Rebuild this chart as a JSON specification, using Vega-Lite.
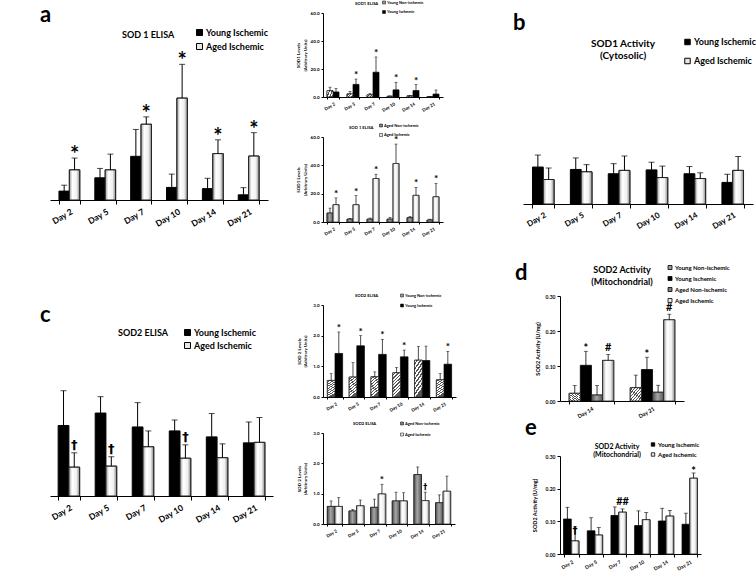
{
"$schema": "https://vega.github.io/schema/vega-lite/v6.json",
"padding": 0,
"background": "white",
"datasets": {
"sod1": [
{"day":"Day 2","series":"Young Non-ischemic","value":4.5,"err":7.0,"s_main":"","s_small":""},
{"day":"Day 2","series":"Young Ischemic","value":3.6,"err":6.0,"s_main":"","s_small":""},
{"day":"Day 2","series":"Aged Non-ischemic","value":6.3,"err":9.8,"s_main":"","s_small":""},
{"day":"Day 2","series":"Aged Ischemic","value":12.2,"err":17.0,"s_main":"*","s_small":"*"},
{"day":"Day 5","series":"Young Non-ischemic","value":2.2,"err":4.0,"s_main":"","s_small":""},
{"day":"Day 5","series":"Young Ischemic","value":9.0,"err":12.8,"s_main":"","s_small":"*"},
{"day":"Day 5","series":"Aged Non-ischemic","value":2.0,"err":2.6,"s_main":"","s_small":""},
{"day":"Day 5","series":"Aged Ischemic","value":12.2,"err":18.6,"s_main":"","s_small":"*"},
{"day":"Day 7","series":"Young Non-ischemic","value":1.5,"err":2.5,"s_main":"","s_small":""},
{"day":"Day 7","series":"Young Ischemic","value":17.7,"err":28.6,"s_main":"","s_small":"*"},
{"day":"Day 7","series":"Aged Non-ischemic","value":2.0,"err":2.8,"s_main":"","s_small":""},
{"day":"Day 7","series":"Aged Ischemic","value":30.7,"err":33.7,"s_main":"*","s_small":"*"},
{"day":"Day 10","series":"Young Non-ischemic","value":0.5,"err":0.8,"s_main":"","s_small":""},
{"day":"Day 10","series":"Young Ischemic","value":5.1,"err":10.5,"s_main":"","s_small":"*"},
{"day":"Day 10","series":"Aged Non-ischemic","value":2.0,"err":3.2,"s_main":"","s_small":""},
{"day":"Day 10","series":"Aged Ischemic","value":41.3,"err":55.0,"s_main":"*","s_small":"*"},
{"day":"Day 14","series":"Young Non-ischemic","value":0.8,"err":1.2,"s_main":"","s_small":""},
{"day":"Day 14","series":"Young Ischemic","value":4.6,"err":8.8,"s_main":"","s_small":"*"},
{"day":"Day 14","series":"Aged Non-ischemic","value":3.0,"err":3.8,"s_main":"","s_small":""},
{"day":"Day 14","series":"Aged Ischemic","value":18.8,"err":24.4,"s_main":"*","s_small":"*"},
{"day":"Day 21","series":"Young Non-ischemic","value":0.3,"err":0.5,"s_main":"","s_small":""},
{"day":"Day 21","series":"Young Ischemic","value":2.1,"err":5.0,"s_main":"","s_small":""},
{"day":"Day 21","series":"Aged Non-ischemic","value":1.4,"err":2.0,"s_main":"","s_small":""},
{"day":"Day 21","series":"Aged Ischemic","value":17.8,"err":27.3,"s_main":"*","s_small":"*"}
],
"sod2": [
{"day":"Day 2","series":"Young Non-ischemic","value":0.54,"err":0.76,"s_main":"","s_small":""},
{"day":"Day 2","series":"Young Ischemic","value":1.42,"err":2.12,"s_main":"","s_small":"*"},
{"day":"Day 2","series":"Aged Non-ischemic","value":0.58,"err":0.76,"s_main":"","s_small":""},
{"day":"Day 2","series":"Aged Ischemic","value":0.58,"err":0.87,"s_main":"†","s_small":""},
{"day":"Day 5","series":"Young Non-ischemic","value":0.65,"err":1.12,"s_main":"","s_small":""},
{"day":"Day 5","series":"Young Ischemic","value":1.67,"err":2.0,"s_main":"","s_small":"*"},
{"day":"Day 5","series":"Aged Non-ischemic","value":0.43,"err":0.48,"s_main":"","s_small":""},
{"day":"Day 5","series":"Aged Ischemic","value":0.6,"err":0.79,"s_main":"†","s_small":""},
{"day":"Day 7","series":"Young Non-ischemic","value":0.66,"err":0.82,"s_main":"","s_small":""},
{"day":"Day 7","series":"Young Ischemic","value":1.39,"err":1.88,"s_main":"","s_small":"*"},
{"day":"Day 7","series":"Aged Non-ischemic","value":0.55,"err":0.82,"s_main":"","s_small":""},
{"day":"Day 7","series":"Aged Ischemic","value":0.99,"err":1.31,"s_main":"","s_small":"*"},
{"day":"Day 10","series":"Young Non-ischemic","value":0.79,"err":0.96,"s_main":"","s_small":""},
{"day":"Day 10","series":"Young Ischemic","value":1.31,"err":1.53,"s_main":"","s_small":"*"},
{"day":"Day 10","series":"Aged Non-ischemic","value":0.76,"err":1.05,"s_main":"","s_small":""},
{"day":"Day 10","series":"Aged Ischemic","value":0.76,"err":1.03,"s_main":"†","s_small":""},
{"day":"Day 14","series":"Young Non-ischemic","value":1.2,"err":1.65,"s_main":"","s_small":""},
{"day":"Day 14","series":"Young Ischemic","value":1.19,"err":1.66,"s_main":"","s_small":""},
{"day":"Day 14","series":"Aged Non-ischemic","value":1.63,"err":1.88,"s_main":"","s_small":""},
{"day":"Day 14","series":"Aged Ischemic","value":0.77,"err":1.05,"s_main":"","s_small":"†"},
{"day":"Day 21","series":"Young Non-ischemic","value":0.56,"err":0.76,"s_main":"","s_small":""},
{"day":"Day 21","series":"Young Ischemic","value":1.07,"err":1.49,"s_main":"","s_small":"*"},
{"day":"Day 21","series":"Aged Non-ischemic","value":0.7,"err":0.96,"s_main":"","s_small":""},
{"day":"Day 21","series":"Aged Ischemic","value":1.08,"err":1.58,"s_main":"","s_small":""}
],
"sod1act": [
{"day":"Day 2","series":"Young Ischemic","value":0.077,"err":0.102},
{"day":"Day 2","series":"Aged Ischemic","value":0.051,"err":0.075},
{"day":"Day 5","series":"Young Ischemic","value":0.072,"err":0.096},
{"day":"Day 5","series":"Aged Ischemic","value":0.067,"err":0.082},
{"day":"Day 7","series":"Young Ischemic","value":0.063,"err":0.084},
{"day":"Day 7","series":"Aged Ischemic","value":0.070,"err":0.100},
{"day":"Day 10","series":"Young Ischemic","value":0.071,"err":0.087},
{"day":"Day 10","series":"Aged Ischemic","value":0.055,"err":0.079},
{"day":"Day 14","series":"Young Ischemic","value":0.063,"err":0.078},
{"day":"Day 14","series":"Aged Ischemic","value":0.053,"err":0.065},
{"day":"Day 21","series":"Young Ischemic","value":0.045,"err":0.062},
{"day":"Day 21","series":"Aged Ischemic","value":0.070,"err":0.099}
],
"dact": [
{"day":"Day 14","series":"Young Non-ischemic","value":0.022,"err":0.044,"sig":""},
{"day":"Day 14","series":"Young Ischemic","value":0.102,"err":0.142,"sig":"*"},
{"day":"Day 14","series":"Aged Non-ischemic","value":0.017,"err":0.044,"sig":""},
{"day":"Day 14","series":"Aged Ischemic","value":0.116,"err":0.133,"sig":"#"},
{"day":"Day 21","series":"Young Non-ischemic","value":0.038,"err":0.074,"sig":""},
{"day":"Day 21","series":"Young Ischemic","value":0.090,"err":0.125,"sig":"*"},
{"day":"Day 21","series":"Aged Non-ischemic","value":0.025,"err":0.045,"sig":""},
{"day":"Day 21","series":"Aged Ischemic","value":0.232,"err":0.248,"sig":"#"}
],
"eact": [
{"day":"Day 2","series":"Young Ischemic","value":0.107,"err":0.143,"sig":""},
{"day":"Day 2","series":"Aged Ischemic","value":0.040,"err":0.083,"sig":"†"},
{"day":"Day 5","series":"Young Ischemic","value":0.071,"err":0.111,"sig":""},
{"day":"Day 5","series":"Aged Ischemic","value":0.058,"err":0.081,"sig":""},
{"day":"Day 7","series":"Young Ischemic","value":0.118,"err":0.144,"sig":""},
{"day":"Day 7","series":"Aged Ischemic","value":0.128,"err":0.138,"sig":"##"},
{"day":"Day 10","series":"Young Ischemic","value":0.087,"err":0.132,"sig":""},
{"day":"Day 10","series":"Aged Ischemic","value":0.105,"err":0.127,"sig":""},
{"day":"Day 14","series":"Young Ischemic","value":0.101,"err":0.140,"sig":""},
{"day":"Day 14","series":"Aged Ischemic","value":0.116,"err":0.133,"sig":""},
{"day":"Day 21","series":"Young Ischemic","value":0.091,"err":0.125,"sig":""},
{"day":"Day 21","series":"Aged Ischemic","value":0.232,"err":0.248,"sig":"*"}
]
},
"resolve": {"scale": {"fill": "independent", "xOffset": "independent"}, "legend": {"fill": "independent"}},
"bounds": "flush",
"spacing": 0,
"hconcat": [
{"width": 50, "height": 10, "data": {"values": [{}]}, "mark": {"type": "point", "opacity": 0, "size": 1}},
{
"bounds": "flush", "spacing": 0,
"resolve": {"scale": {"fill": "independent", "xOffset": "independent"}, "legend": {"fill": "independent"}},
"vconcat": [
{"title": {"text": "a", "anchor": "start", "frame": "group", "fontSize": 22, "dx": -10, "dy": 44, "offset": 0, "baseline": "alphabetic"}, "width": 1, "height": 30, "data": {"values": [{}]}, "mark": {"type": "point", "opacity": 0, "size": 1}},
{"title": {"text": "SOD 1 ELISA", "anchor": "start", "frame": "group", "fontSize": 9, "dx": 72, "dy": 14, "offset": 0, "baseline": "middle"}, "width": 1, "height": 22, "data": {"values": [{}]}, "mark": {"type": "point", "opacity": 0, "size": 1}},
{
"width": 218, "height": 148,
"data": {"name": "sod1"},
"transform": [{"filter": {"field": "series", "oneOf": ["Young Ischemic", "Aged Ischemic"]}}],
"encoding": {
"x": {"field": "day", "type": "nominal", "sort": ["Day 2","Day 5","Day 7","Day 10","Day 14","Day 21"], "scale": {"paddingInner": 0.42, "paddingOuter": 0.25}, "axis": {"title": null, "labelAngle": -30, "labelFontSize": 8.5, "tickBand": "extent", "tickSize": 4, "labelPadding": 3, "labelOverlap": false}},
"xOffset": {"field": "series", "type": "nominal", "scale": {"domain": ["Young Ischemic", "Aged Ischemic"], "paddingInner": 0, "paddingOuter": 0}},
"y": {"field": "value", "type": "quantitative", "scale": {"domain": [0, 60]}, "axis": {"values": [0,10,20,30,40,50,60], "tickCount": 6, "labelOverlap": false, "labelSeparation": 0, "format": ".1f", "title": ["SOD 1 Levels", "(Arbitrary Units)"], "titleFontSize": 10.5, "labelFontSize": 8.5, "tickSize": 4, "titlePadding": 2}}
},
"layer": [
{"mark": {"type": "bar", "stroke": "#000", "strokeWidth": 1},
 "encoding": {
  "fill": {"field": "series", "type": "nominal", "scale": {"domain": ["Young Ischemic", "Aged Ischemic"], "range": ["#000000", "#e6e6e6"]}, "legend": {"title": null, "orient": "none", "legendX": 145, "legendY": -24, "symbolType": "square", "symbolSize": 36, "symbolStrokeColor": "#000", "symbolStrokeWidth": 1, "labelFontSize": 9, "rowPadding": 3, "labelOffset": 2}}
 }},
{"transform": [{"filter": "datum.series == 'Aged Ischemic'"}], "mark": {"type": "bar", "stroke": "#222", "strokeWidth": 1, "fill": {"gradient": "linear", "x1": 0, "y1": 0, "x2": 1, "y2": 0, "stops": [{"offset": 0, "color": "#9c9c9c"}, {"offset": 0.3, "color": "#ffffff"}, {"offset": 0.7, "color": "#f0f0f0"}, {"offset": 1, "color": "#8a8a8a"}]}}},
{"mark": {"type": "rule", "color": "#000", "strokeWidth": 1}, "encoding": {"y2": {"field": "err"}}},
{"mark": {"type": "tick", "color": "#000", "thickness": 1, "size": 6}, "encoding": {"y": {"field": "err", "type": "quantitative", "axis": null}}},
{"transform": [{"filter": "datum.s_main != ''"}], "mark": {"type": "text", "color": "#000", "fontSize": 22, "fontWeight": "bold", "baseline": "alphabetic", "dy": 4}, "encoding": {"y": {"field": "err", "type": "quantitative", "axis": null}, "text": {"field": "s_main"}}}
]
},
{"title": {"text": "c", "anchor": "start", "frame": "group", "fontSize": 22, "dx": -10, "dy": 144, "offset": 0, "baseline": "alphabetic"}, "width": 1, "height": 125, "data": {"values": [{}]}, "mark": {"type": "point", "opacity": 0, "size": 1}},
{"title": {"text": "SOD2 ELISA", "anchor": "start", "frame": "group", "fontSize": 9, "dx": 68, "dy": 17, "offset": 0, "baseline": "middle"}, "width": 1, "height": 22, "data": {"values": [{}]}, "mark": {"type": "point", "opacity": 0, "size": 1}},
{
"width": 223, "height": 149,
"data": {"name": "sod2"},
"transform": [{"filter": {"field": "series", "oneOf": ["Young Ischemic", "Aged Ischemic"]}}],
"encoding": {
"x": {"field": "day", "type": "nominal", "sort": ["Day 2","Day 5","Day 7","Day 10","Day 14","Day 21"], "scale": {"paddingInner": 0.42, "paddingOuter": 0.22}, "axis": {"title": null, "labelAngle": -30, "labelFontSize": 8.5, "tickBand": "extent", "tickSize": 4, "labelPadding": 3, "labelOverlap": false}},
"xOffset": {"field": "series", "type": "nominal", "scale": {"domain": ["Young Ischemic", "Aged Ischemic"], "paddingInner": 0, "paddingOuter": 0}},
"y": {"field": "value", "type": "quantitative", "scale": {"domain": [0, 3]}, "axis": {"values": [0,0.5,1,1.5,2,2.5,3], "tickCount": 6, "labelOverlap": false, "labelSeparation": 0, "format": ".1f", "title": ["SOD 2 Levels", "(Arbitrary units)"], "titleFontSize": 10.5, "labelFontSize": 8.5, "tickSize": 4, "titlePadding": 6}}
},
"layer": [
{"mark": {"type": "bar", "stroke": "#000", "strokeWidth": 1},
 "encoding": {
  "fill": {"field": "series", "type": "nominal", "scale": {"domain": ["Young Ischemic", "Aged Ischemic"], "range": ["#000000", "#e6e6e6"]}, "legend": {"title": null, "orient": "none", "legendX": 133, "legendY": -19, "symbolType": "square", "symbolSize": 36, "symbolStrokeColor": "#000", "symbolStrokeWidth": 1, "labelFontSize": 9, "rowPadding": 2, "labelOffset": 2}}
 }},
{"transform": [{"filter": "datum.series == 'Aged Ischemic'"}], "mark": {"type": "bar", "stroke": "#222", "strokeWidth": 1, "fill": {"gradient": "linear", "x1": 0, "y1": 0, "x2": 1, "y2": 0, "stops": [{"offset": 0, "color": "#9c9c9c"}, {"offset": 0.3, "color": "#ffffff"}, {"offset": 0.7, "color": "#f0f0f0"}, {"offset": 1, "color": "#8a8a8a"}]}}},
{"mark": {"type": "rule", "color": "#000", "strokeWidth": 1}, "encoding": {"y2": {"field": "err"}}},
{"mark": {"type": "tick", "color": "#000", "thickness": 1, "size": 6}, "encoding": {"y": {"field": "err", "type": "quantitative", "axis": null}}},
{"transform": [{"filter": "datum.s_main != ''"}], "mark": {"type": "text", "color": "#000", "font": "DejaVu Sans", "fontSize": 13, "fontWeight": "bold", "baseline": "alphabetic", "dy": -4}, "encoding": {"y": {"field": "err", "type": "quantitative", "axis": null}, "text": {"field": "s_main"}}}
]
}
]
},
{"width": 273, "height": 1, "data": {"values": [{}]}, "mark": {"type": "point", "opacity": 0, "size": 1}},
{
"bounds": "flush", "spacing": 0,
"resolve": {"scale": {"fill": "independent", "xOffset": "independent"}, "legend": {"fill": "independent"}},
"vconcat": [
{"title": {"text": "SOD1 ELISA", "anchor": "start", "frame": "group", "fontSize": 4.2, "dx": 32, "dy": 8.5, "offset": 0, "baseline": "middle"}, "width": 1, "height": 13, "data": {"values": [{}]}, "mark": {"type": "point", "opacity": 0, "size": 1}},
{
"width": 120, "height": 84,
"data": {"name": "sod1"},
"transform": [{"filter": {"field": "series", "oneOf": ["Young Non-ischemic", "Young Ischemic"]}}],
"encoding": {
"x": {"field": "day", "type": "nominal", "sort": ["Day 2","Day 5","Day 7","Day 10","Day 14","Day 21"], "scale": {"paddingInner": 0.4, "paddingOuter": 0.2}, "axis": {"title": null, "labelAngle": -30, "labelFontSize": 4.5, "tickBand": "extent", "tickSize": 2, "labelPadding": 2, "labelOverlap": false}},
"xOffset": {"field": "series", "type": "nominal", "scale": {"domain": ["Young Non-ischemic", "Young Ischemic"], "paddingInner": 0, "paddingOuter": 0}},
"y": {"field": "value", "type": "quantitative", "scale": {"domain": [0, 60]}, "axis": {"values": [0,10,20,30,40,50,60], "tickCount": 6, "labelOverlap": false, "format": ".1f", "title": ["SOD1 Levels", "(Arbitrary Units)"], "titleFontSize": 4.5, "labelFontSize": 4.5, "tickSize": 2, "titlePadding": 3}}
},
"layer": [
{"mark": {"type": "bar", "stroke": "#000", "strokeWidth": 0.7},
 "encoding": {
  "fill": {"field": "series", "type": "nominal", "scale": {"domain": ["Young Non-ischemic", "Young Ischemic"], "range": ["#9a9a9a", "#000000"]}, "legend": {"title": null, "orient": "none", "legendX": 59, "legendY": -12.5, "symbolType": "square", "symbolSize": 9, "symbolStrokeColor": "#000", "symbolStrokeWidth": 0.5, "labelFontSize": 4, "rowPadding": 3.5, "labelOffset": 1}}
 }},
{"transform": [{"filter": "datum.series == 'Young Non-ischemic'"}], "mark": {"type": "bar", "stroke": "#222", "strokeWidth": 0.7, "fill": {"gradient": "linear", "x1": 0, "y1": 0, "x2": 0.3, "y2": 1, "stops": [{"offset":0,"color":"#fff"},{"offset":0.07,"color":"#fff"},{"offset":0.07,"color":"#555"},{"offset":0.125,"color":"#555"},{"offset":0.125,"color":"#fff"},{"offset":0.195,"color":"#fff"},{"offset":0.195,"color":"#555"},{"offset":0.25,"color":"#555"},{"offset":0.25,"color":"#fff"},{"offset":0.32,"color":"#fff"},{"offset":0.32,"color":"#555"},{"offset":0.375,"color":"#555"},{"offset":0.375,"color":"#fff"},{"offset":0.445,"color":"#fff"},{"offset":0.445,"color":"#555"},{"offset":0.5,"color":"#555"},{"offset":0.5,"color":"#fff"},{"offset":0.57,"color":"#fff"},{"offset":0.57,"color":"#555"},{"offset":0.625,"color":"#555"},{"offset":0.625,"color":"#fff"},{"offset":0.695,"color":"#fff"},{"offset":0.695,"color":"#555"},{"offset":0.75,"color":"#555"},{"offset":0.75,"color":"#fff"},{"offset":0.82,"color":"#fff"},{"offset":0.82,"color":"#555"},{"offset":0.875,"color":"#555"},{"offset":0.875,"color":"#fff"},{"offset":0.945,"color":"#fff"},{"offset":0.945,"color":"#555"},{"offset":1,"color":"#555"}]}}},
{"mark": {"type": "rule", "color": "#000", "strokeWidth": 0.7}, "encoding": {"y2": {"field": "err"}}},
{"mark": {"type": "tick", "color": "#000", "thickness": 0.7, "size": 3}, "encoding": {"y": {"field": "err", "type": "quantitative", "axis": {"values": [0,10,20,30,40,50,60], "tickCount": 6, "labelOverlap": false, "format": ".1f", "title": ["SOD1 Levels", "(Arbitrary Units)"], "titleFontSize": 4.5, "labelFontSize": 4.5, "tickSize": 2, "titlePadding": 3}}}},
{"transform": [{"filter": "datum.s_small != ''"}], "mark": {"type": "text", "color": "#000", "fontSize": 10, "fontWeight": "bold", "baseline": "alphabetic", "dy": -1}, "encoding": {"y": {"field": "err", "type": "quantitative", "axis": {"values": [0,10,20,30,40,50,60], "tickCount": 6, "labelOverlap": false, "format": ".1f", "title": ["SOD1 Levels", "(Arbitrary Units)"], "titleFontSize": 4.5, "labelFontSize": 4.5, "tickSize": 2, "titlePadding": 3}}, "text": {"field": "s_small"}}}
]
},
{"title": {"text": "SOD 1 ELISA", "anchor": "start", "frame": "group", "fontSize": 4.2, "dx": 26, "dy": 35.5, "offset": 0, "baseline": "middle"}, "width": 1, "height": 40, "data": {"values": [{}]}, "mark": {"type": "point", "opacity": 0, "size": 1}},
{
"width": 120, "height": 85,
"data": {"name": "sod1"},
"transform": [{"filter": {"field": "series", "oneOf": ["Aged Non-ischemic", "Aged Ischemic"]}}],
"encoding": {
"x": {"field": "day", "type": "nominal", "sort": ["Day 2","Day 5","Day 7","Day 10","Day 14","Day 21"], "scale": {"paddingInner": 0.4, "paddingOuter": 0.2}, "axis": {"title": null, "labelAngle": -30, "labelFontSize": 4.5, "tickBand": "extent", "tickSize": 2, "labelPadding": 2, "labelOverlap": false}},
"xOffset": {"field": "series", "type": "nominal", "scale": {"domain": ["Aged Non-ischemic", "Aged Ischemic"], "paddingInner": 0, "paddingOuter": 0}},
"y": {"field": "value", "type": "quantitative", "scale": {"domain": [0, 60]}, "axis": {"values": [0,10,20,30,40,50,60], "tickCount": 6, "labelOverlap": false, "format": ".1f", "title": ["SOD1 Levels", "(Arbitrary Units)"], "titleFontSize": 4.5, "labelFontSize": 4.5, "tickSize": 2, "titlePadding": 3}}
},
"layer": [
{"mark": {"type": "bar", "stroke": "#000", "strokeWidth": 0.7},
 "encoding": {
  "fill": {"field": "series", "type": "nominal", "scale": {"domain": ["Aged Non-ischemic", "Aged Ischemic"], "range": ["#808080", "#e6e6e6"]}, "legend": {"title": null, "orient": "none", "legendX": 56, "legendY": -13.5, "symbolType": "square", "symbolSize": 9, "symbolStrokeColor": "#000", "symbolStrokeWidth": 0.5, "labelFontSize": 4, "rowPadding": 3.5, "labelOffset": 1}}
 }},
{"transform": [{"filter": "datum.series == 'Aged Non-ischemic'"}], "mark": {"type": "bar", "stroke": "#222", "strokeWidth": 0.7, "fill": {"gradient": "linear", "x1": 0, "y1": 0, "x2": 1, "y2": 0, "stops": [{"offset": 0, "color": "#4d4d4d"}, {"offset": 0.45, "color": "#a6a6a6"}, {"offset": 1, "color": "#555555"}]}}},
{"transform": [{"filter": "datum.series == 'Aged Ischemic'"}], "mark": {"type": "bar", "stroke": "#222", "strokeWidth": 0.7, "fill": {"gradient": "linear", "x1": 0, "y1": 0, "x2": 1, "y2": 0, "stops": [{"offset": 0, "color": "#9c9c9c"}, {"offset": 0.3, "color": "#ffffff"}, {"offset": 0.7, "color": "#f0f0f0"}, {"offset": 1, "color": "#8a8a8a"}]}}},
{"mark": {"type": "rule", "color": "#000", "strokeWidth": 0.7}, "encoding": {"y2": {"field": "err"}}},
{"mark": {"type": "tick", "color": "#000", "thickness": 0.7, "size": 3}, "encoding": {"y": {"field": "err", "type": "quantitative", "axis": {"values": [0,10,20,30,40,50,60], "tickCount": 6, "labelOverlap": false, "format": ".1f", "title": ["SOD1 Levels", "(Arbitrary Units)"], "titleFontSize": 4.5, "labelFontSize": 4.5, "tickSize": 2, "titlePadding": 3}}}},
{"transform": [{"filter": "datum.s_small != ''"}], "mark": {"type": "text", "color": "#000", "fontSize": 10, "fontWeight": "bold", "baseline": "alphabetic", "dy": -1}, "encoding": {"y": {"field": "err", "type": "quantitative", "axis": {"values": [0,10,20,30,40,50,60], "tickCount": 6, "labelOverlap": false, "format": ".1f", "title": ["SOD1 Levels", "(Arbitrary Units)"], "titleFontSize": 4.5, "labelFontSize": 4.5, "tickSize": 2, "titlePadding": 3}}, "text": {"field": "s_small"}}}
]
},
{"title": {"text": "SOD2 ELISA", "anchor": "start", "frame": "group", "fontSize": 4.2, "dx": 32, "dy": 78.5, "offset": 0, "baseline": "middle"}, "width": 1, "height": 83, "data": {"values": [{}]}, "mark": {"type": "point", "opacity": 0, "size": 1}},
{
"width": 133, "height": 92,
"data": {"name": "sod2"},
"transform": [{"filter": {"field": "series", "oneOf": ["Young Non-ischemic", "Young Ischemic"]}}],
"encoding": {
"x": {"field": "day", "type": "nominal", "sort": ["Day 2","Day 5","Day 7","Day 10","Day 14","Day 21"], "scale": {"paddingInner": 0.3, "paddingOuter": 0.2}, "axis": {"title": null, "labelAngle": -30, "labelFontSize": 4.5, "tickBand": "extent", "tickSize": 2, "labelPadding": 2, "labelOverlap": false}},
"xOffset": {"field": "series", "type": "nominal", "scale": {"domain": ["Young Non-ischemic", "Young Ischemic"], "paddingInner": 0, "paddingOuter": 0}},
"y": {"field": "value", "type": "quantitative", "scale": {"domain": [0, 3]}, "axis": {"values": [0,0.5,1,1.5,2,2.5,3], "tickCount": 6, "labelOverlap": false, "format": ".1f", "title": ["SOD 2 Levels", "(Arbitrary Units)"], "titleFontSize": 4.5, "labelFontSize": 4.5, "tickSize": 2, "titlePadding": 5}}
},
"layer": [
{"mark": {"type": "bar", "stroke": "#000", "strokeWidth": 0.7},
 "encoding": {
  "fill": {"field": "series", "type": "nominal", "scale": {"domain": ["Young Non-ischemic", "Young Ischemic"], "range": ["#9a9a9a", "#000000"]}, "legend": {"title": null, "orient": "none", "legendX": 77, "legendY": -11.5, "symbolType": "square", "symbolSize": 9, "symbolStrokeColor": "#000", "symbolStrokeWidth": 0.5, "labelFontSize": 4, "rowPadding": 4, "labelOffset": 1}}
 }},
{"transform": [{"filter": "datum.series == 'Young Non-ischemic'"}], "mark": {"type": "bar", "stroke": "#222", "strokeWidth": 0.7, "fill": {"gradient": "linear", "x1": 0, "y1": 0, "x2": 0.3, "y2": 1, "stops": [{"offset":0,"color":"#fff"},{"offset":0.07,"color":"#fff"},{"offset":0.07,"color":"#555"},{"offset":0.125,"color":"#555"},{"offset":0.125,"color":"#fff"},{"offset":0.195,"color":"#fff"},{"offset":0.195,"color":"#555"},{"offset":0.25,"color":"#555"},{"offset":0.25,"color":"#fff"},{"offset":0.32,"color":"#fff"},{"offset":0.32,"color":"#555"},{"offset":0.375,"color":"#555"},{"offset":0.375,"color":"#fff"},{"offset":0.445,"color":"#fff"},{"offset":0.445,"color":"#555"},{"offset":0.5,"color":"#555"},{"offset":0.5,"color":"#fff"},{"offset":0.57,"color":"#fff"},{"offset":0.57,"color":"#555"},{"offset":0.625,"color":"#555"},{"offset":0.625,"color":"#fff"},{"offset":0.695,"color":"#fff"},{"offset":0.695,"color":"#555"},{"offset":0.75,"color":"#555"},{"offset":0.75,"color":"#fff"},{"offset":0.82,"color":"#fff"},{"offset":0.82,"color":"#555"},{"offset":0.875,"color":"#555"},{"offset":0.875,"color":"#fff"},{"offset":0.945,"color":"#fff"},{"offset":0.945,"color":"#555"},{"offset":1,"color":"#555"}]}}},
{"mark": {"type": "rule", "color": "#000", "strokeWidth": 0.7}, "encoding": {"y2": {"field": "err"}}},
{"mark": {"type": "tick", "color": "#000", "thickness": 0.7, "size": 3}, "encoding": {"y": {"field": "err", "type": "quantitative", "axis": {"values": [0,0.5,1,1.5,2,2.5,3], "tickCount": 6, "labelOverlap": false, "format": ".1f", "title": ["SOD 2 Levels", "(Arbitrary Units)"], "titleFontSize": 4.5, "labelFontSize": 4.5, "tickSize": 2, "titlePadding": 5}}}},
{"transform": [{"filter": "datum.s_small != ''"}], "mark": {"type": "text", "color": "#000", "fontSize": 10, "fontWeight": "bold", "baseline": "alphabetic", "dy": -1}, "encoding": {"y": {"field": "err", "type": "quantitative", "axis": {"values": [0,0.5,1,1.5,2,2.5,3], "tickCount": 6, "labelOverlap": false, "format": ".1f", "title": ["SOD 2 Levels", "(Arbitrary Units)"], "titleFontSize": 4.5, "labelFontSize": 4.5, "tickSize": 2, "titlePadding": 5}}, "text": {"field": "s_small"}}}
]
},
{"title": {"text": "SOD2 ELISA", "anchor": "start", "frame": "group", "fontSize": 4.2, "dx": 30, "dy": 31.5, "offset": 0, "baseline": "middle"}, "width": 1, "height": 36, "data": {"values": [{}]}, "mark": {"type": "point", "opacity": 0, "size": 1}},
{
"width": 132, "height": 91,
"data": {"name": "sod2"},
"transform": [{"filter": {"field": "series", "oneOf": ["Aged Non-ischemic", "Aged Ischemic"]}}],
"encoding": {
"x": {"field": "day", "type": "nominal", "sort": ["Day 2","Day 5","Day 7","Day 10","Day 14","Day 21"], "scale": {"paddingInner": 0.3, "paddingOuter": 0.2}, "axis": {"title": null, "labelAngle": -30, "labelFontSize": 4.5, "tickBand": "extent", "tickSize": 2, "labelPadding": 2, "labelOverlap": false}},
"xOffset": {"field": "series", "type": "nominal", "scale": {"domain": ["Aged Non-ischemic", "Aged Ischemic"], "paddingInner": 0, "paddingOuter": 0}},
"y": {"field": "value", "type": "quantitative", "scale": {"domain": [0, 3]}, "axis": {"values": [0,0.5,1,1.5,2,2.5,3], "tickCount": 6, "labelOverlap": false, "format": ".1f", "title": ["SOD 2 Levels", "(Arbitrary Units)"], "titleFontSize": 4.5, "labelFontSize": 4.5, "tickSize": 2, "titlePadding": 5}}
},
"layer": [
{"mark": {"type": "bar", "stroke": "#000", "strokeWidth": 0.7},
 "encoding": {
  "fill": {"field": "series", "type": "nominal", "scale": {"domain": ["Aged Non-ischemic", "Aged Ischemic"], "range": ["#808080", "#e6e6e6"]}, "legend": {"title": null, "orient": "none", "legendX": 77, "legendY": -11.5, "symbolType": "square", "symbolSize": 9, "symbolStrokeColor": "#000", "symbolStrokeWidth": 0.5, "labelFontSize": 4, "rowPadding": 5, "labelOffset": 1}}
 }},
{"transform": [{"filter": "datum.series == 'Aged Non-ischemic'"}], "mark": {"type": "bar", "stroke": "#222", "strokeWidth": 0.7, "fill": {"gradient": "linear", "x1": 0, "y1": 0, "x2": 1, "y2": 0, "stops": [{"offset": 0, "color": "#4d4d4d"}, {"offset": 0.45, "color": "#a6a6a6"}, {"offset": 1, "color": "#555555"}]}}},
{"transform": [{"filter": "datum.series == 'Aged Ischemic'"}], "mark": {"type": "bar", "stroke": "#222", "strokeWidth": 0.7, "fill": {"gradient": "linear", "x1": 0, "y1": 0, "x2": 1, "y2": 0, "stops": [{"offset": 0, "color": "#9c9c9c"}, {"offset": 0.3, "color": "#ffffff"}, {"offset": 0.7, "color": "#f0f0f0"}, {"offset": 1, "color": "#8a8a8a"}]}}},
{"mark": {"type": "rule", "color": "#000", "strokeWidth": 0.7}, "encoding": {"y2": {"field": "err"}}},
{"mark": {"type": "tick", "color": "#000", "thickness": 0.7, "size": 3}, "encoding": {"y": {"field": "err", "type": "quantitative", "axis": {"values": [0,0.5,1,1.5,2,2.5,3], "tickCount": 6, "labelOverlap": false, "format": ".1f", "title": ["SOD 2 Levels", "(Arbitrary Units)"], "titleFontSize": 4.5, "labelFontSize": 4.5, "tickSize": 2, "titlePadding": 5}}}},
{"transform": [{"filter": "datum.s_small == '*'"}], "mark": {"type": "text", "color": "#000", "fontSize": 10, "fontWeight": "bold", "baseline": "alphabetic", "dy": -1}, "encoding": {"y": {"field": "err", "type": "quantitative", "axis": {"values": [0,0.5,1,1.5,2,2.5,3], "tickCount": 6, "labelOverlap": false, "format": ".1f", "title": ["SOD 2 Levels", "(Arbitrary Units)"], "titleFontSize": 4.5, "labelFontSize": 4.5, "tickSize": 2, "titlePadding": 5}}, "text": {"field": "s_small"}}},
{"transform": [{"filter": "datum.s_small == '†'"}], "mark": {"type": "text", "color": "#000", "font": "DejaVu Sans", "fontSize": 8, "fontWeight": "bold", "baseline": "alphabetic", "dy": -2}, "encoding": {"y": {"field": "err", "type": "quantitative", "axis": {"values": [0,0.5,1,1.5,2,2.5,3], "tickCount": 6, "labelOverlap": false, "format": ".1f", "title": ["SOD 2 Levels", "(Arbitrary Units)"], "titleFontSize": 4.5, "labelFontSize": 4.5, "tickSize": 2, "titlePadding": 5}}, "text": {"field": "s_small"}}}
]
}
]
},
{"width": 200, "height": 1, "data": {"values": [{}]}, "mark": {"type": "point", "opacity": 0, "size": 1}},
{
"bounds": "flush", "spacing": 0,
"resolve": {"scale": {"fill": "independent", "xOffset": "independent"}, "legend": {"fill": "independent"}},
"vconcat": [
{"title": {"text": "b", "anchor": "start", "frame": "group", "fontSize": 22, "dx": -10, "dy": 52, "offset": 0, "baseline": "alphabetic"}, "width": 1, "height": 37, "data": {"values": [{}]}, "mark": {"type": "point", "opacity": 0, "size": 1}},
{"title": {"text": ["SOD1 Activity", "(Cytosolic)"], "anchor": "middle", "frame": "group", "fontSize": 10, "lineHeight": 12, "dx": 99.5, "dy": 24, "offset": 0, "baseline": "top"}, "width": 1, "height": 23, "data": {"values": [{}]}, "mark": {"type": "point", "opacity": 0, "size": 1}},
{
"width": 230, "height": 144,
"data": {"name": "sod1act"},
"encoding": {
"x": {"field": "day", "type": "nominal", "sort": ["Day 2","Day 5","Day 7","Day 10","Day 14","Day 21"], "scale": {"paddingInner": 0.43, "paddingOuter": 0.25}, "axis": {"title": null, "labelAngle": -30, "labelFontSize": 8, "tickBand": "extent", "tickSize": 4, "labelPadding": 3, "labelOverlap": false}},
"xOffset": {"field": "series", "type": "nominal", "scale": {"domain": ["Young Ischemic", "Aged Ischemic"], "paddingInner": 0, "paddingOuter": 0}},
"y": {"field": "value", "type": "quantitative", "scale": {"domain": [0, 0.3]}, "axis": {"values": [0,0.05,0.1,0.15,0.2,0.25,0.3], "tickCount": 6, "labelOverlap": false, "labelSeparation": 0, "format": ".2f", "title": "SOD1 Activity (U/mg)", "titleFontSize": 9, "labelFontSize": 8, "tickSize": 4, "titlePadding": 6}}
},
"layer": [
{"mark": {"type": "bar", "stroke": "#000", "strokeWidth": 1},
 "encoding": {
  "fill": {"field": "series", "type": "nominal", "scale": {"domain": ["Young Ischemic", "Aged Ischemic"], "range": ["#000000", "#e6e6e6"]}, "legend": {"title": null, "orient": "none", "legendX": 160, "legendY": -22.5, "symbolType": "square", "symbolSize": 30, "symbolStrokeColor": "#000", "symbolStrokeWidth": 1, "labelFontSize": 9, "rowPadding": 8, "labelOffset": 2}}
 }},
{"transform": [{"filter": "datum.series == 'Aged Ischemic'"}], "mark": {"type": "bar", "stroke": "#222", "strokeWidth": 1, "fill": {"gradient": "linear", "x1": 0, "y1": 0, "x2": 1, "y2": 0, "stops": [{"offset": 0, "color": "#9c9c9c"}, {"offset": 0.3, "color": "#ffffff"}, {"offset": 0.7, "color": "#f0f0f0"}, {"offset": 1, "color": "#8a8a8a"}]}}},
{"mark": {"type": "rule", "color": "#000", "strokeWidth": 1}, "encoding": {"y2": {"field": "err"}}},
{"mark": {"type": "tick", "color": "#000", "thickness": 1, "size": 6}, "encoding": {"y": {"field": "err", "type": "quantitative", "axis": null}}}
]
},
{"title": {"text": "d", "anchor": "start", "frame": "group", "fontSize": 22, "dx": -8, "dy": 98, "offset": 0, "baseline": "alphabetic"}, "width": 1, "height": 58, "data": {"values": [{}]}, "mark": {"type": "point", "opacity": 0, "size": 1}},
{"title": {"text": ["SOD2 Activity", "(Mitochondrial)"], "anchor": "middle", "frame": "group", "fontSize": 9, "lineHeight": 12, "dx": 98.5, "dy": 25, "offset": 0, "baseline": "top"}, "width": 1, "height": 34, "data": {"values": [{}]}, "mark": {"type": "point", "opacity": 0, "size": 1}},
{
"bounds": "flush", "spacing": 0,
"resolve": {"scale": {"fill": "independent", "xOffset": "independent"}, "legend": {"fill": "independent"}},
"hconcat": [
{"width": 37, "height": 1, "data": {"values": [{}]}, "mark": {"type": "point", "opacity": 0, "size": 1}},
{
"bounds": "flush", "spacing": 0,
"resolve": {"scale": {"fill": "independent", "xOffset": "independent"}, "legend": {"fill": "independent"}},
"vconcat": [
{
"width": 124, "height": 105,
"data": {"name": "dact"},
"encoding": {
"x": {"field": "day", "type": "nominal", "sort": ["Day 14","Day 21"], "scale": {"paddingInner": 0.27, "paddingOuter": 0.15}, "axis": {"title": null, "labelAngle": -30, "labelFontSize": 5.5, "tickBand": "extent", "tickSize": 3, "labelPadding": 2, "labelOverlap": false}},
"xOffset": {"field": "series", "type": "nominal", "scale": {"domain": ["Young Non-ischemic", "Young Ischemic", "Aged Non-ischemic", "Aged Ischemic"], "paddingInner": 0, "paddingOuter": 0}},
"y": {"field": "value", "type": "quantitative", "scale": {"domain": [0, 0.3]}, "axis": {"values": [0,0.05,0.1,0.15,0.2,0.25,0.3], "tickCount": 6, "labelOverlap": false, "format": ".2f", "title": "SOD2 Activity (U/mg)", "titleFontSize": 5.5, "labelFontSize": 5, "tickSize": 3, "titlePadding": 5}}
},
"layer": [
{"mark": {"type": "bar", "stroke": "#000", "strokeWidth": 0.8},
 "encoding": {
  "fill": {"field": "series", "type": "nominal", "scale": {"domain": ["Young Non-ischemic", "Young Ischemic", "Aged Non-ischemic", "Aged Ischemic"], "range": ["#9a9a9a", "#000000", "#808080", "#e6e6e6"]}, "legend": {"title": null, "orient": "none", "legendX": 107, "legendY": -31.5, "symbolType": "square", "symbolSize": 16, "symbolStrokeColor": "#000", "symbolStrokeWidth": 0.8, "labelFontSize": 6, "rowPadding": 3, "labelOffset": 2}}
 }},
{"transform": [{"filter": "datum.series == 'Young Non-ischemic'"}], "mark": {"type": "bar", "stroke": "#222", "strokeWidth": 0.8, "fill": {"gradient": "linear", "x1": 0, "y1": 0, "x2": 1, "y2": 1, "stops": [{"offset":0,"color":"#fff"},{"offset":0.07,"color":"#fff"},{"offset":0.07,"color":"#555"},{"offset":0.125,"color":"#555"},{"offset":0.125,"color":"#fff"},{"offset":0.195,"color":"#fff"},{"offset":0.195,"color":"#555"},{"offset":0.25,"color":"#555"},{"offset":0.25,"color":"#fff"},{"offset":0.32,"color":"#fff"},{"offset":0.32,"color":"#555"},{"offset":0.375,"color":"#555"},{"offset":0.375,"color":"#fff"},{"offset":0.445,"color":"#fff"},{"offset":0.445,"color":"#555"},{"offset":0.5,"color":"#555"},{"offset":0.5,"color":"#fff"},{"offset":0.57,"color":"#fff"},{"offset":0.57,"color":"#555"},{"offset":0.625,"color":"#555"},{"offset":0.625,"color":"#fff"},{"offset":0.695,"color":"#fff"},{"offset":0.695,"color":"#555"},{"offset":0.75,"color":"#555"},{"offset":0.75,"color":"#fff"},{"offset":0.82,"color":"#fff"},{"offset":0.82,"color":"#555"},{"offset":0.875,"color":"#555"},{"offset":0.875,"color":"#fff"},{"offset":0.945,"color":"#fff"},{"offset":0.945,"color":"#555"},{"offset":1,"color":"#555"}]}}},
{"transform": [{"filter": "datum.series == 'Aged Non-ischemic'"}], "mark": {"type": "bar", "stroke": "#222", "strokeWidth": 0.8, "fill": {"gradient": "linear", "x1": 0, "y1": 0, "x2": 1, "y2": 0, "stops": [{"offset": 0, "color": "#4d4d4d"}, {"offset": 0.45, "color": "#a6a6a6"}, {"offset": 1, "color": "#555555"}]}}},
{"transform": [{"filter": "datum.series == 'Aged Ischemic'"}], "mark": {"type": "bar", "stroke": "#222", "strokeWidth": 0.8, "fill": {"gradient": "linear", "x1": 0, "y1": 0, "x2": 1, "y2": 0, "stops": [{"offset": 0, "color": "#9c9c9c"}, {"offset": 0.3, "color": "#ffffff"}, {"offset": 0.7, "color": "#f0f0f0"}, {"offset": 1, "color": "#8a8a8a"}]}}},
{"mark": {"type": "rule", "color": "#000", "strokeWidth": 0.8}, "encoding": {"y2": {"field": "err"}}},
{"mark": {"type": "tick", "color": "#000", "thickness": 0.8, "size": 4}, "encoding": {"y": {"field": "err", "type": "quantitative", "axis": {"values": [0,0.05,0.1,0.15,0.2,0.25,0.3], "tickCount": 6, "labelOverlap": false, "format": ".2f", "title": "SOD2 Activity (U/mg)", "titleFontSize": 5.5, "labelFontSize": 5, "tickSize": 3, "titlePadding": 5}}}},
{"transform": [{"filter": "datum.sig == '*'"}], "mark": {"type": "text", "color": "#000", "fontSize": 11, "fontWeight": "bold", "baseline": "alphabetic", "dy": 1}, "encoding": {"y": {"field": "err", "type": "quantitative", "axis": {"values": [0,0.05,0.1,0.15,0.2,0.25,0.3], "tickCount": 6, "labelOverlap": false, "format": ".2f", "title": "SOD2 Activity (U/mg)", "titleFontSize": 5.5, "labelFontSize": 5, "tickSize": 3, "titlePadding": 5}}, "text": {"field": "sig"}}},
{"transform": [{"filter": "datum.sig == '#'"}], "mark": {"type": "text", "color": "#000", "fontSize": 11, "fontWeight": "bold", "baseline": "alphabetic", "dy": -3}, "encoding": {"y": {"field": "err", "type": "quantitative", "axis": {"values": [0,0.05,0.1,0.15,0.2,0.25,0.3], "tickCount": 6, "labelOverlap": false, "format": ".2f", "title": "SOD2 Activity (U/mg)", "titleFontSize": 5.5, "labelFontSize": 5, "tickSize": 3, "titlePadding": 5}}, "text": {"field": "sig"}}}
]
},
{"title": {"text": "e", "anchor": "start", "frame": "group", "fontSize": 22, "dx": -35, "dy": 56, "offset": 0, "baseline": "alphabetic"}, "width": 1, "height": 27, "data": {"values": [{}]}, "mark": {"type": "point", "opacity": 0, "size": 1}},
{"title": {"text": ["SOD2 Activity", "(Mitochondrial)"], "anchor": "middle", "frame": "group", "fontSize": 7, "lineHeight": 8.5, "dx": 56.5, "dy": 30, "offset": 0, "baseline": "top"}, "width": 1, "height": 28, "data": {"values": [{}]}, "mark": {"type": "point", "opacity": 0, "size": 1}},
{
"width": 141, "height": 98,
"data": {"name": "eact"},
"encoding": {
"x": {"field": "day", "type": "nominal", "sort": ["Day 2","Day 5","Day 7","Day 10","Day 14","Day 21"], "scale": {"paddingInner": 0.35, "paddingOuter": 0.15}, "axis": {"title": null, "labelAngle": -30, "labelFontSize": 5, "tickBand": "extent", "tickSize": 3, "labelPadding": 2, "labelOverlap": false}},
"xOffset": {"field": "series", "type": "nominal", "scale": {"domain": ["Young Ischemic", "Aged Ischemic"], "paddingInner": 0, "paddingOuter": 0}},
"y": {"field": "value", "type": "quantitative", "scale": {"domain": [0, 0.3]}, "axis": {"values": [0,0.05,0.1,0.15,0.2,0.25,0.3], "tickCount": 6, "labelOverlap": false, "format": ".2f", "title": "SOD2 Activity (U/mg)", "titleFontSize": 5.5, "labelFontSize": 5, "tickSize": 3, "titlePadding": 8}}
},
"layer": [
{"mark": {"type": "bar", "stroke": "#000", "strokeWidth": 0.8},
 "encoding": {
  "fill": {"field": "series", "type": "nominal", "scale": {"domain": ["Young Ischemic", "Aged Ischemic"], "range": ["#000000", "#e6e6e6"]}, "legend": {"title": null, "orient": "none", "legendX": 90, "legendY": -14.5, "symbolType": "square", "symbolSize": 12, "symbolStrokeColor": "#000", "symbolStrokeWidth": 0.8, "labelFontSize": 6, "rowPadding": 2, "labelOffset": 2}}
 }},
{"transform": [{"filter": "datum.series == 'Aged Ischemic'"}], "mark": {"type": "bar", "stroke": "#222", "strokeWidth": 0.8, "fill": {"gradient": "linear", "x1": 0, "y1": 0, "x2": 1, "y2": 0, "stops": [{"offset": 0, "color": "#9c9c9c"}, {"offset": 0.3, "color": "#ffffff"}, {"offset": 0.7, "color": "#f0f0f0"}, {"offset": 1, "color": "#8a8a8a"}]}}},
{"mark": {"type": "rule", "color": "#000", "strokeWidth": 0.8}, "encoding": {"y2": {"field": "err"}}},
{"mark": {"type": "tick", "color": "#000", "thickness": 0.8, "size": 4}, "encoding": {"y": {"field": "err", "type": "quantitative", "axis": {"values": [0,0.05,0.1,0.15,0.2,0.25,0.3], "tickCount": 6, "labelOverlap": false, "format": ".2f", "title": "SOD2 Activity (U/mg)", "titleFontSize": 5.5, "labelFontSize": 5, "tickSize": 3, "titlePadding": 8}}}},
{"transform": [{"filter": "datum.sig == '*'"}], "mark": {"type": "text", "color": "#000", "fontSize": 11, "fontWeight": "bold", "baseline": "alphabetic", "dy": 2}, "encoding": {"y": {"field": "err", "type": "quantitative", "axis": {"values": [0,0.05,0.1,0.15,0.2,0.25,0.3], "tickCount": 6, "labelOverlap": false, "format": ".2f", "title": "SOD2 Activity (U/mg)", "titleFontSize": 5.5, "labelFontSize": 5, "tickSize": 3, "titlePadding": 8}}, "text": {"field": "sig"}}},
{"transform": [{"filter": "datum.sig == '##'"}], "mark": {"type": "text", "color": "#000", "fontSize": 11, "fontWeight": "bold", "baseline": "alphabetic", "dy": -4}, "encoding": {"y": {"field": "err", "type": "quantitative", "axis": {"values": [0,0.05,0.1,0.15,0.2,0.25,0.3], "tickCount": 6, "labelOverlap": false, "format": ".2f", "title": "SOD2 Activity (U/mg)", "titleFontSize": 5.5, "labelFontSize": 5, "tickSize": 3, "titlePadding": 8}}, "text": {"field": "sig"}}},
{"transform": [{"filter": "datum.sig == '†'"}], "mark": {"type": "text", "color": "#000", "font": "DejaVu Sans", "fontSize": 10, "fontWeight": "bold", "baseline": "alphabetic", "dy": 7}, "encoding": {"y": {"field": "err", "type": "quantitative", "axis": {"values": [0,0.05,0.1,0.15,0.2,0.25,0.3], "tickCount": 6, "labelOverlap": false, "format": ".2f", "title": "SOD2 Activity (U/mg)", "titleFontSize": 5.5, "labelFontSize": 5, "tickSize": 3, "titlePadding": 8}}, "text": {"field": "sig"}}}
]
}
]
}
]
}
]
}
],
"config": {
"font": "Lato",
"view": {"stroke": null},
"axis": {"grid": false, "labelOverlap": false, "domainColor": "#000", "tickColor": "#000", "labelColor": "#000", "titleColor": "#000", "labelFontWeight": "bold", "titleFontWeight": "bold", "labelFont": "Lato", "titleFont": "Lato"},
"axisY": {"tickCount": 6},
"legend": {"labelFont": "Lato", "labelFontWeight": "bold", "labelColor": "#000"},
"title": {"font": "Lato", "fontWeight": "bold", "color": "#000"},
"text": {"font": "Lato", "color": "#000"}
}
}
